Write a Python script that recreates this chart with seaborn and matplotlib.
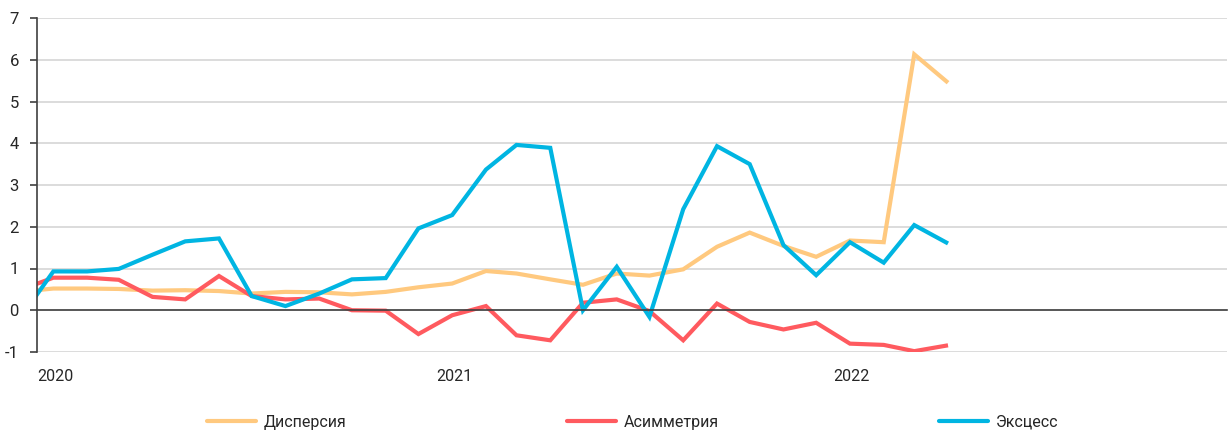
import matplotlib
matplotlib.use("Agg")
import matplotlib.pyplot as plt
import seaborn as sns
import pandas as pd
from matplotlib.lines import Line2D

# ---- data (monthly, mid-month; first point Dec 2019 is clipped by the axis) ----
start_month = "2019-12-01"
end_month = "2022-04-01"
series_names = ["Дисперсия", "Асимметрия", "Эксцесс"]
series_colors = ["#FFC97F", "#FF5A5F", "#00B5E2"]

dispersion = [0.44,
              0.52, 0.52, 0.51, 0.47, 0.48, 0.46, 0.40, 0.44, 0.43, 0.38, 0.44, 0.55,
              0.64, 0.94, 0.88, 0.74, 0.61, 0.88, 0.83, 0.98, 1.52, 1.86, 1.54, 1.28,
              1.67, 1.63, 6.13, 5.45]
skewness = [0.48,
            0.78, 0.78, 0.73, 0.32, 0.26, 0.82, 0.34, 0.26, 0.28, 0.00, -0.01, -0.57,
            -0.12, 0.10, -0.60, -0.72, 0.18, 0.26, -0.02, -0.72, 0.16, -0.28, -0.46, -0.30,
            -0.80, -0.83, -0.98, -0.84]
kurtosis = [-0.21,
            0.93, 0.93, 0.99, 1.33, 1.65, 1.72, 0.34, 0.10, 0.40, 0.74, 0.77, 1.96,
            2.28, 3.37, 3.96, 3.89, 0.00, 1.04, -0.16, 2.42, 3.93, 3.50, 1.56, 0.84,
            1.63, 1.14, 2.04, 1.60]

year_ticks = ["2020-01-01", "2021-01-01", "2022-01-01"]
year_labels = ["2020", "2021", "2022"]
y_ticks = [-1, 0, 1, 2, 3, 4, 5, 6, 7]

# ---- build table ----
dates = pd.date_range(start_month, end_month, freq="MS") + pd.Timedelta(days=15)
df = pd.concat([
    pd.DataFrame({"date": dates, "value": vals, "series": name})
    for name, vals in zip(series_names, [dispersion, skewness, kurtosis])
])

sns.set_theme(style="white")
plt.rcParams["font.family"] = ["Roboto", "DejaVu Sans"]
plt.rcParams["axes.unicode_minus"] = False

fig = plt.figure(figsize=(12.28, 4.32), dpi=100)
ax = fig.add_axes([37 / 1228, 1 - 352 / 432, (1227 - 37) / 1228, (352 - 18) / 432])

sns.lineplot(data=df, x="date", y="value", hue="series", hue_order=series_names,
             palette=series_colors, linewidth=3.0, legend=False, ax=ax,
             solid_joinstyle="miter", solid_capstyle="butt")

ax.set_xlim(pd.Timestamp("2020-01-01"), pd.Timestamp("2022-12-28"))
ax.set_ylim(-1, 7)
ax.set_xlabel("")
ax.set_ylabel("")

# grid
ax.set_yticks(y_ticks)
ax.yaxis.grid(True, color="#D9D9D9", linewidth=1.3)
ax.xaxis.grid(False)
ax.set_axisbelow(True)

# spines
for s in ["top", "right"]:
    ax.spines[s].set_visible(False)
ax.spines["left"].set_color("#404040")
ax.spines["left"].set_linewidth(1.2)
ax.spines["bottom"].set_position(("data", 0))
ax.spines["bottom"].set_color("#404040")
ax.spines["bottom"].set_linewidth(1.2)

ax.set_xticks(pd.to_datetime(year_ticks))
ax.set_xticklabels(year_labels, ha="left")
ax.tick_params(axis="x", direction="out", length=5, width=1.2, color="#404040",
               pad=37, labelsize=11.5, labelcolor="#262626")
ax.tick_params(axis="y", direction="out", length=5, width=1.2, color="#404040",
               pad=8, labelsize=12, labelcolor="#262626", left=True)
for t in ax.get_yticklabels():
    t.set_horizontalalignment("right")

# legend
handles = [Line2D([0], [0], color=c, linewidth=3.0) for c in series_colors]
fig.legend(handles, series_names, loc="center", bbox_to_anchor=(0.515, 1 - 422 / 432),
           ncol=3, frameon=False, handlelength=3.1, handletextpad=0.45,
           columnspacing=13.8, fontsize=11.5, labelcolor="#262626")

fig.savefig("out.png", dpi=100)
